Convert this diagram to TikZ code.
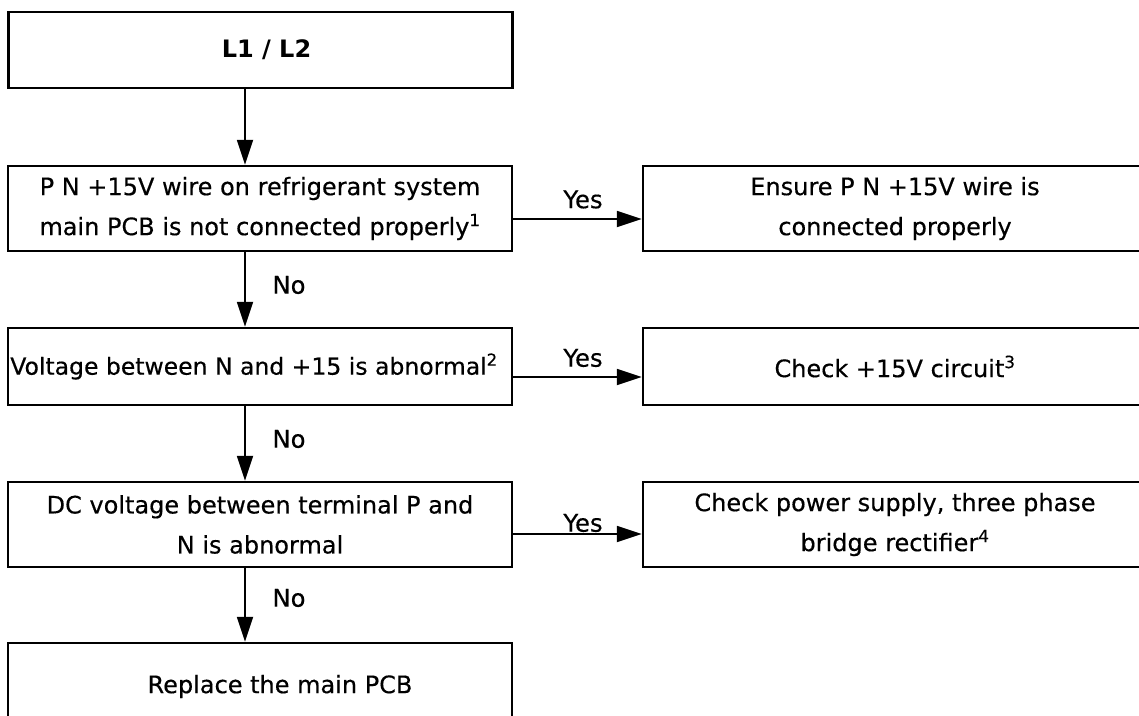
\documentclass[tikz,border=0pt]{standalone}
\usepackage{fontspec}
\setmainfont{DejaVu Sans}[UprightFeatures={FakeBold=0.4}]
\usetikzlibrary{arrows.meta}
\begin{document}
\begin{tikzpicture}[x=1pt,y=-1pt,
  box/.style={draw, line width=2.4pt, inner sep=0pt, align=center,
    minimum width=504pt, font=\fontsize{24}{40}\selectfont},
  arr/.style={line width=1.8pt, -{Triangle[length=25pt,width=16pt]}},
  lbl/.style={inner sep=0pt, font=\fontsize{24.3}{28}\selectfont}]
\useasboundingbox (0,0) rectangle (1139,715);
\clip (0,0) rectangle (1139,715);
\fill[white] (0,0) rectangle (1139,715);

\node[box, minimum height=76pt] (start) at (260.5,50) {\hspace*{12pt}\bfseries L1 / L2};
\node[box, minimum height=85pt] (b1) at (260,208.5) {P N +15V wire on refrigerant system\\main PCB is not connected properly\textsuperscript{1}};
\node[box, minimum height=85pt] (r1) at (895,208.5) {Ensure P N +15V wire is\\connected properly};
\node[box, minimum height=77pt, font=\fontsize{23.5}{40}\selectfont] (b2) at (260,366.5) {\hspace*{-12pt}Voltage between N and +15 is abnormal\textsuperscript{2}};
\node[box, minimum height=77pt] (r2) at (895,366.5) {Check +15V circuit\textsuperscript{3}};
\node[box, minimum height=85pt] (b3) at (260,524.5) {DC voltage between terminal P and\\N is abnormal};
\node[box, minimum height=85pt] (r3) at (895,524.5) {Check power supply, three phase\\bridge rectifier\textsuperscript{4}};
\node[box, minimum height=87pt] (b4) at (260,686.5) {\hspace*{40pt}Replace the main PCB};

\coordinate (ax) at (245,0);

\draw[arr] (start.south -| ax) -- (b1.north -| ax);
\draw[arr] (b1.south -| ax) -- (b2.north -| ax);
\draw[arr] (b2.south -| ax) -- (b3.north -| ax);
\draw[arr] (b3.south -| ax) -- (b4.north -| ax);

\draw[arr] ([yshift=-10.5pt]b1.east) -- ([yshift=-10.5pt]r1.west);
\draw[arr] ([yshift=-10.5pt]b2.east) -- ([yshift=-10.5pt]r2.west);
\draw[arr] ([yshift=-9.5pt]b3.east) -- ([yshift=-9.5pt]r3.west);

\node[lbl] (y1) at (583,199.5) {Yes};
\node[lbl] (y2) at (583,358) {Yes};
\node[lbl] (y3) at (583,523) {Yes};
\node[lbl] (n1) at (289,285) {No};
\node[lbl] (n2) at (289,439) {No};
\node[lbl] (n3) at (289,598) {No};
\end{tikzpicture}
\end{document}
